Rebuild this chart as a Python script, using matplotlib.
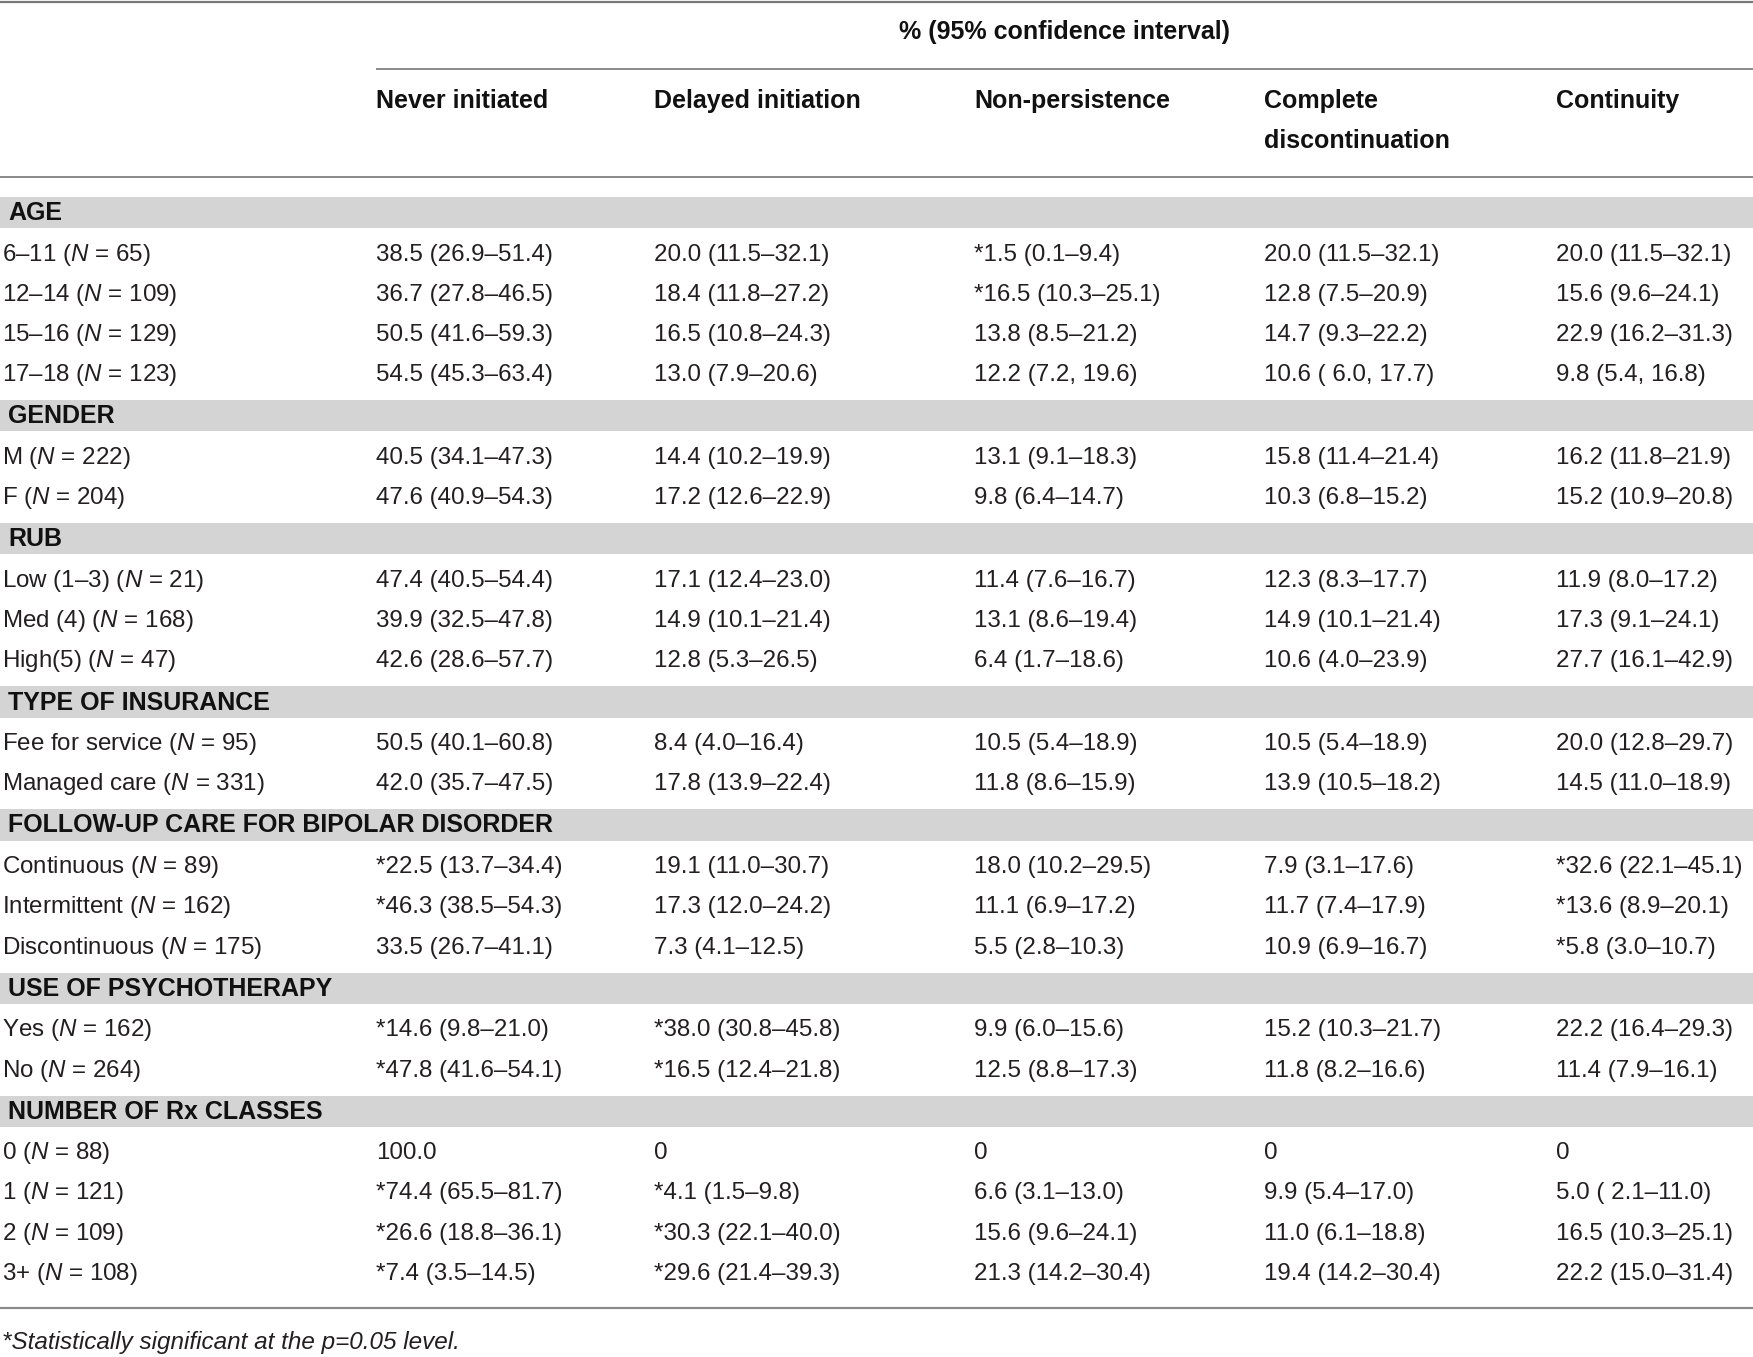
import matplotlib
matplotlib.use('Agg')
import matplotlib.pyplot as plt

plt.rcParams['font.family'] = ['Liberation Sans', 'DejaVu Sans']
plt.rcParams['mathtext.fontset'] = 'custom'
plt.rcParams['mathtext.it'] = 'Liberation Sans:italic'
plt.rcParams['mathtext.rm'] = 'Liberation Sans'

# table content
spanner = '% (95% confidence interval)'
col_heads = ['Never initiated', 'Delayed initiation', 'Non-persistence',
             'Complete\ndiscontinuation', 'Continuity']
sections = ['AGE', 'GENDER', 'RUB', 'TYPE OF INSURANCE',
            'FOLLOW-UP CARE FOR BIPOLAR DISORDER', 'USE OF PSYCHOTHERAPY',
            'NUMBER OF Rx CLASSES']
row_labels = [
    ['6–11 (N = 65)', '12–14 (N = 109)', '15–16 (N = 129)', '17–18 (N = 123)'],
    ['M (N = 222)', 'F (N = 204)'],
    ['Low (1–3) (N = 21)', 'Med (4) (N = 168)', 'High(5) (N = 47)'],
    ['Fee for service (N = 95)', 'Managed care (N = 331)'],
    ['Continuous (N = 89)', 'Intermittent (N = 162)', 'Discontinuous (N = 175)'],
    ['Yes (N = 162)', 'No (N = 264)'],
    ['0 (N = 88)', '1 (N = 121)', '2 (N = 109)', '3+ (N = 108)'],
]
never_initiated = [
    '38.5 (26.9–51.4)', '36.7 (27.8–46.5)', '50.5 (41.6–59.3)', '54.5 (45.3–63.4)',
    '40.5 (34.1–47.3)', '47.6 (40.9–54.3)',
    '47.4 (40.5–54.4)', '39.9 (32.5–47.8)', '42.6 (28.6–57.7)',
    '50.5 (40.1–60.8)', '42.0 (35.7–47.5)',
    '*22.5 (13.7–34.4)', '*46.3 (38.5–54.3)', '33.5 (26.7–41.1)',
    '*14.6 (9.8–21.0)', '*47.8 (41.6–54.1)',
    '100.0', '*74.4 (65.5–81.7)', '*26.6 (18.8–36.1)', '*7.4 (3.5–14.5)',
]
delayed_initiation = [
    '20.0 (11.5–32.1)', '18.4 (11.8–27.2)', '16.5 (10.8–24.3)', '13.0 (7.9–20.6)',
    '14.4 (10.2–19.9)', '17.2 (12.6–22.9)',
    '17.1 (12.4–23.0)', '14.9 (10.1–21.4)', '12.8 (5.3–26.5)',
    '8.4 (4.0–16.4)', '17.8 (13.9–22.4)',
    '19.1 (11.0–30.7)', '17.3 (12.0–24.2)', '7.3 (4.1–12.5)',
    '*38.0 (30.8–45.8)', '*16.5 (12.4–21.8)',
    '0', '*4.1 (1.5–9.8)', '*30.3 (22.1–40.0)', '*29.6 (21.4–39.3)',
]
non_persistence = [
    '*1.5 (0.1–9.4)', '*16.5 (10.3–25.1)', '13.8 (8.5–21.2)', '12.2 (7.2, 19.6)',
    '13.1 (9.1–18.3)', '9.8 (6.4–14.7)',
    '11.4 (7.6–16.7)', '13.1 (8.6–19.4)', '6.4 (1.7–18.6)',
    '10.5 (5.4–18.9)', '11.8 (8.6–15.9)',
    '18.0 (10.2–29.5)', '11.1 (6.9–17.2)', '5.5 (2.8–10.3)',
    '9.9 (6.0–15.6)', '12.5 (8.8–17.3)',
    '0', '6.6 (3.1–13.0)', '15.6 (9.6–24.1)', '21.3 (14.2–30.4)',
]
complete_disc = [
    '20.0 (11.5–32.1)', '12.8 (7.5–20.9)', '14.7 (9.3–22.2)', '10.6 ( 6.0, 17.7)',
    '15.8 (11.4–21.4)', '10.3 (6.8–15.2)',
    '12.3 (8.3–17.7)', '14.9 (10.1–21.4)', '10.6 (4.0–23.9)',
    '10.5 (5.4–18.9)', '13.9 (10.5–18.2)',
    '7.9 (3.1–17.6)', '11.7 (7.4–17.9)', '10.9 (6.9–16.7)',
    '15.2 (10.3–21.7)', '11.8 (8.2–16.6)',
    '0', '9.9 (5.4–17.0)', '11.0 (6.1–18.8)', '19.4 (14.2–30.4)',
]
continuity = [
    '20.0 (11.5–32.1)', '15.6 (9.6–24.1)', '22.9 (16.2–31.3)', '9.8 (5.4, 16.8)',
    '16.2 (11.8–21.9)', '15.2 (10.9–20.8)',
    '11.9 (8.0–17.2)', '17.3 (9.1–24.1)', '27.7 (16.1–42.9)',
    '20.0 (12.8–29.7)', '14.5 (11.0–18.9)',
    '*32.6 (22.1–45.1)', '*13.6 (8.9–20.1)', '*5.8 (3.0–10.7)',
    '22.2 (16.4–29.3)', '11.4 (7.9–16.1)',
    '0', '5.0 ( 2.1–11.0)', '16.5 (10.3–25.1)', '22.2 (15.0–31.4)',
]
footnote = '*Statistically significant at the p=0.05 level.'

columns = [never_initiated, delayed_initiation, non_persistence, complete_disc, continuity]

W, H = 1753, 1357
fig = plt.figure(figsize=(W / 100, H / 100), dpi=100)
ax = fig.add_axes([0, 0, 1, 1])
ax.set_xlim(0, W)
ax.set_ylim(H, 0)
ax.axis('off')

fs = 17.4
fs_bold = 18
txt_col = '#231f20'
rule_col = '#8a8a8a'
band_col = '#d4d4d5'
col_x = [376, 654, 974, 1264, 1556]

# header
ax.plot([0, W], [1.5, 1.5], color='#777777', lw=1.6, solid_capstyle='butt')
ax.text((376 + W) / 2, 32.5, spanner, ha='center', va='center', fontsize=fs_bold,
        fontweight='bold', color='#111111')
ax.plot([376, W], [69, 69], color=rule_col, lw=1.4, solid_capstyle='butt')
for x, head in zip(col_x, col_heads):
    for i, line in enumerate(head.split('\n')):
        ax.text(x, 101 + i * 40.2, line, ha='left', va='center', fontsize=fs_bold,
                fontweight='bold', color='#111111')
ax.plot([0, W], [176.6, 176.6], color=rule_col, lw=1.4, solid_capstyle='butt')

# body
y = 212.4
k = 0
for sec, labels in zip(sections, row_labels):
    ax.add_patch(plt.Rectangle((0, y - 15.6), W, 31.2, color=band_col, lw=0))
    ax.text(8, y + 0.5, sec, ha='left', va='center', fontsize=fs_bold, fontweight='bold',
            color='#111111')
    y += 39.1
    for j, lab in enumerate(labels):
        if j > 0:
            y += 40.25
        ty = y + 3
        ax.text(2, ty, lab.replace('N =', '$N$ ='), ha='left', va='center',
                fontsize=fs, color=txt_col)
        for x, col in zip(col_x, columns):
            ax.text(x, ty, col[k], ha='left', va='center', fontsize=fs, color=txt_col)
        k += 1
    y += 43.6

ax.plot([0, W], [1308, 1308], color=rule_col, lw=1.6, solid_capstyle='butt')
ax.text(2, 1343, footnote, ha='left', va='center', fontsize=17.5,
        style='italic', color=txt_col)

fig.savefig('out.png', dpi=100)
